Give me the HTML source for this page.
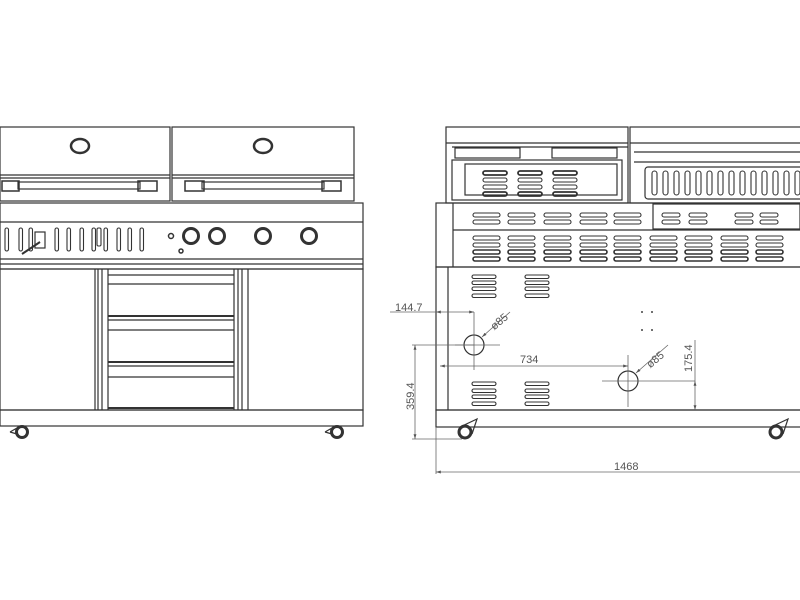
<!DOCTYPE html>
<html><head><meta charset="utf-8"><style>
html,body{margin:0;padding:0;background:#fff;width:800px;height:600px;overflow:hidden}
svg{display:block}
text{font-family:"Liberation Sans",sans-serif;fill:#555;font-size:11px}
</style></head><body>
<svg id="s" width="800" height="600" viewBox="0 0 800 600" xmlns="http://www.w3.org/2000/svg">
<defs><marker id="a" viewBox="0 0 10 10" refX="10" refY="5" markerWidth="6" markerHeight="6" orient="auto-start-reverse"><path d="M0,2 L10,5 L0,8z" fill="#555"/></marker></defs>
<g fill="none" stroke="#333" stroke-width="1.2">
<rect x="0" y="127" width="170" height="74"/>
<line x1="0" y1="175" x2="170" y2="175"/>
<line x1="0" y1="178" x2="170" y2="178"/>
<rect x="172" y="127" width="182" height="74"/>
<line x1="172" y1="175" x2="354" y2="175"/>
<line x1="172" y1="178" x2="354" y2="178"/>
<ellipse cx="80" cy="146" rx="9" ry="7" stroke-width="2.5"/>
<ellipse cx="263" cy="146" rx="9" ry="7" stroke-width="2.5"/>
<rect x="18" y="182" width="122" height="7"/>
<rect x="2" y="181" width="17" height="10" stroke-width="1.5"/>
<rect x="138" y="181" width="19" height="10" stroke-width="1.5"/>
<rect x="202" y="182" width="122" height="7"/>
<rect x="185" y="181" width="19" height="10" stroke-width="1.5"/>
<rect x="322" y="181" width="19" height="10" stroke-width="1.5"/>
<rect x="0" y="203" width="363" height="66"/>
<line x1="0" y1="222" x2="363" y2="222"/>
<line x1="0" y1="259" x2="363" y2="259"/>
<line x1="0" y1="264" x2="363" y2="264"/>
<circle cx="191" cy="236" r="7.5" stroke-width="3"/>
<circle cx="217" cy="236" r="7.5" stroke-width="3"/>
<circle cx="263" cy="236" r="7.5" stroke-width="3"/>
<circle cx="309" cy="236" r="7.5" stroke-width="3"/>
<circle cx="171" cy="236" r="2.5" stroke-width="1.5"/>
<circle cx="181" cy="251" r="2" stroke-width="1.5"/>
<rect x="35" y="232" width="10" height="16"/>
<line x1="22" y1="254" x2="40" y2="242" stroke-width="2"/>
<rect x="0" y="269" width="363" height="141"/>
<line x1="95" y1="269" x2="95" y2="410"/><line x1="98" y1="269" x2="98" y2="410"/>
<line x1="102" y1="269" x2="102" y2="410"/><line x1="108" y1="269" x2="108" y2="410"/>
<line x1="234" y1="269" x2="234" y2="410"/><line x1="238" y1="269" x2="238" y2="410"/>
<line x1="242" y1="269" x2="242" y2="410"/><line x1="248" y1="269" x2="248" y2="410"/>
<line x1="108" y1="275" x2="234" y2="275"/><line x1="108" y1="284" x2="234" y2="284"/>
<line x1="108" y1="316" x2="234" y2="316" stroke-width="2"/><line x1="108" y1="320" x2="234" y2="320"/><line x1="108" y1="330" x2="234" y2="330"/>
<line x1="108" y1="362" x2="234" y2="362" stroke-width="2"/><line x1="108" y1="366" x2="234" y2="366"/><line x1="108" y1="377" x2="234" y2="377"/>
<line x1="108" y1="408" x2="234" y2="408" stroke-width="2"/>
<rect x="0" y="410" width="363" height="16"/>
<circle cx="22" cy="432" r="5.5" stroke-width="3"/>
<circle cx="337" cy="432" r="5.5" stroke-width="3"/>
<path d="M10,432 L17,428 M10,432 L17,434"/><path d="M325,432 L332,428 M325,432 L332,434"/>
<rect x="446" y="127" width="182" height="76"/>
<rect x="630" y="127" width="175" height="76"/>
<line x1="446" y1="143" x2="628" y2="143"/><line x1="630" y1="143" x2="800" y2="143"/>
<line x1="452" y1="147" x2="628" y2="147"/><line x1="634" y1="152" x2="800" y2="152"/>
<line x1="634" y1="162" x2="800" y2="162"/>
<rect x="452" y="160" width="170" height="40"/>
<rect x="465" y="164" width="152" height="31"/>
<rect x="455" y="148" width="65" height="10"/>
<rect x="552" y="148" width="65" height="10"/>
<rect x="645" y="167" width="160" height="32" rx="3"/>
<rect x="436" y="203" width="370" height="64"/>
<line x1="453" y1="203" x2="453" y2="267"/>
<line x1="453" y1="230" x2="800" y2="230"/>
<rect x="653" y="204" width="147" height="25"/>
<rect x="436" y="267" width="370" height="143"/>
<line x1="448" y1="267" x2="448" y2="410"/>
<rect x="436" y="410" width="370" height="17"/>
<circle cx="465" cy="432" r="6" stroke-width="3"/>
<circle cx="776" cy="432" r="6" stroke-width="3"/>
<path d="M460,427 L477,419 L472,434 M771,427 L788,419 L783,434"/>
<circle cx="474" cy="345" r="10"/>
<circle cx="628" cy="381" r="10"/>
</g>
<g id="gen" fill="none" stroke="#333" stroke-width="1.1"></g>
<g fill="none" stroke="#666" stroke-width="0.8">
<line x1="474" y1="328" x2="474" y2="370"/><line x1="455" y1="345" x2="500" y2="345"/>
<line x1="628" y1="355" x2="628" y2="407"/><line x1="602" y1="381" x2="695" y2="381"/>
<line x1="510" y1="312" x2="482" y2="337" marker-end="url(#a)"/>
<line x1="668" y1="345" x2="636" y2="373" marker-end="url(#a)"/>
<line x1="390" y1="312" x2="436" y2="312"/>
<line x1="436" y1="312" x2="474" y2="312" marker-start="url(#a)" marker-end="url(#a)"/>
<line x1="474" y1="312" x2="474" y2="328"/>
<line x1="440" y1="366" x2="628" y2="366" marker-start="url(#a)" marker-end="url(#a)"/>
<line x1="415" y1="345" x2="415" y2="439" marker-start="url(#a)" marker-end="url(#a)"/>
<line x1="412" y1="345" x2="474" y2="345"/>
<line x1="412" y1="439" x2="462" y2="439"/>
<line x1="695" y1="381" x2="695" y2="410" marker-start="url(#a)" marker-end="url(#a)"/>
<line x1="695" y1="340" x2="695" y2="381"/>
<line x1="436" y1="427" x2="436" y2="474"/>
<line x1="436" y1="472" x2="800" y2="472" marker-start="url(#a)"/>
</g>
<g fill="#444" stroke="none">
<circle cx="642" cy="312" r="1"/><circle cx="652" cy="312" r="1"/>
<circle cx="642" cy="330" r="1"/><circle cx="652" cy="330" r="1"/>
</g>
<text x="395" y="311">144.7</text>
<text x="489" y="328" transform="rotate(-40 495 322)">ø85</text>
<text x="645" y="366" transform="rotate(-40 651 360)">ø85</text>
<text x="520" y="363">734</text>
<text x="414" y="410" transform="rotate(-90 414 410)">359.4</text>
<text x="692" y="372" transform="rotate(-90 692 372)">175.4</text>
<text x="614" y="470">1468</text>
</svg>
<script>
var g=document.getElementById('gen'),ns='http://www.w3.org/2000/svg';
function r(x,y,w,h,rx,sw){var e=document.createElementNS(ns,'rect');e.setAttribute('x',x);e.setAttribute('y',y);e.setAttribute('width',w);e.setAttribute('height',h);e.setAttribute('rx',rx);if(sw)e.setAttribute('stroke-width',sw);g.appendChild(e);}
[5,19,29,55,67,80,92,104,117,128,140].forEach(function(x){r(x,228,3.5,23,1.7);});
r(97,228,4,18,1.5);
[473,508,544,580,614].forEach(function(x){r(x,213,27,4,2);r(x,220,27,4,2);});
[662,689,735,760].forEach(function(x){r(x,213,18,4,2);r(x,220,18,4,2);});
[473,508,544,580,614,650,685,721,756].forEach(function(x){[236,243,250,257].forEach(function(y,i){r(x,y,27,4,2,i>1?1.6:0);});});
[472,525].forEach(function(x){[275,281,287,294,382,389,395,402].forEach(function(y){r(x,y,24,3.5,1.7);});});
[483,518,553].forEach(function(x){[171,178,185,192].forEach(function(y,i){r(x,y,24,4,2,(i==0||i==3)?1.8:0);});});
for(var x=652;x<800;x+=11){r(x,171,5,24,2.5);}
</script>
</body></html>
